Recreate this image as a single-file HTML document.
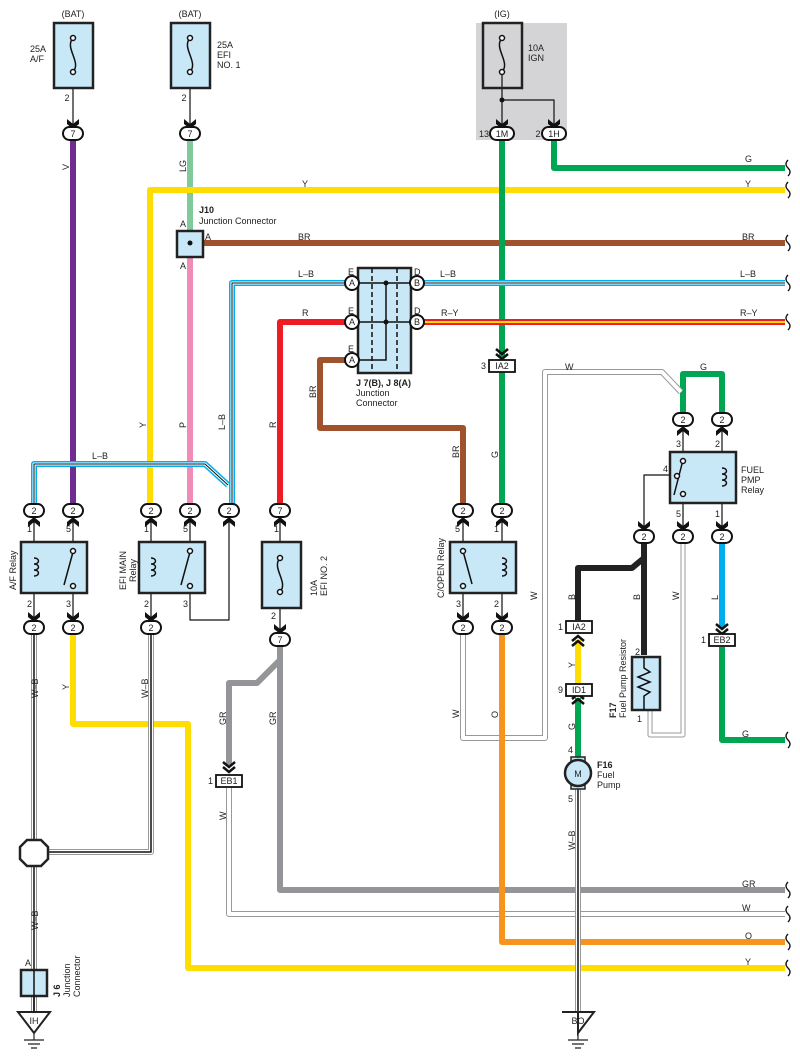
<!DOCTYPE html>
<html><head><meta charset="utf-8"><style>
html,body{margin:0;padding:0;background:#fff;}
svg{display:block;font-family:"Liberation Sans",sans-serif;}
text{font-size:9px;fill:#222;}
.b{font-weight:bold;}
</style></head><body>
<svg width="800" height="1063" viewBox="0 0 800 1063" xmlns="http://www.w3.org/2000/svg">
<defs>
<symbol id="chd" viewBox="-6 -8 12 10" width="12" height="10" overflow="visible"><path d="M-6,-8 L0,-3 L6,-8 L6,-3 L0,2 L-6,-3Z" fill="#111"/></symbol>
<symbol id="chu" viewBox="-6 -2 12 10" width="12" height="10" overflow="visible"><path d="M-6,8 L0,3 L6,8 L6,3 L0,-2 L-6,3Z" fill="#111"/></symbol>
<symbol id="dbl" viewBox="-6 -8 12 14" width="12" height="14" overflow="visible"><path d="M-6,-8 L0,-3 L6,-8 M-6,-3 L0,2 L6,-3" fill="none" stroke="#111" stroke-width="2.5"/></symbol>
<symbol id="dblu" viewBox="-6 -2 12 14" width="12" height="14" overflow="visible"><path d="M-6,8 L0,3 L6,8 M-6,3 L0,-2 L6,3" fill="none" stroke="#111" stroke-width="2.5"/></symbol>
</defs>
<g fill="none" stroke-linejoin="round">
<!-- IG gray box -->
<rect x="476" y="23" width="91" height="117" fill="#d4d4d6" stroke="none"/>
<!-- thick wires -->
<path d="M73,140 V505" stroke="#6f2c91" stroke-width="6"/>
<path d="M190,140 V232" stroke="#7fc99a" stroke-width="6"/>
<path d="M190,256 V505" stroke="#f08cb8" stroke-width="6"/>
<path d="M785,190 H150 V505" stroke="#ffdd00" stroke-width="6"/>
<path d="M203,243 H785" stroke="#a0522d" stroke-width="6"/>
<path d="M554,140 V168 H785" stroke="#00a651" stroke-width="6"/>
<path d="M502,140 V358" stroke="#00a651" stroke-width="6"/>
<path d="M502,372 V505" stroke="#00a651" stroke-width="6"/>
<path d="M345,322 H280 V505" stroke="#ed1c24" stroke-width="6"/>
<path d="M424,322 H785" stroke="#ed1c24" stroke-width="6"/>
<path d="M424,322 H785" stroke="#ffdd00" stroke-width="2"/>
<path d="M345,360 H320 V428 H463 V505" stroke="#a0522d" stroke-width="6"/>
<!-- L-B -->
<path d="M345,283 H232 V505" stroke="#00aeef" stroke-width="6"/>
<path d="M345,283 H232 V505" stroke="#fff" stroke-width="3"/>
<path d="M345,283 H232 V505" stroke="#111" stroke-width="1"/>
<path d="M424,283 H785" stroke="#00aeef" stroke-width="6"/>
<path d="M424,283 H785" stroke="#fff" stroke-width="3"/>
<path d="M424,283 H785" stroke="#111" stroke-width="1"/>
<path d="M34,505 V464 H205 L228,485" stroke="#00aeef" stroke-width="6"/>
<path d="M34,505 V464 H205 L228,485" stroke="#fff" stroke-width="3"/>
<path d="M34,505 V464 H205 L228,485" stroke="#111" stroke-width="1"/>
<!-- G loop fuel pump relay -->
<path d="M683,414 V374 H722 V414" stroke="#00a651" stroke-width="6"/>
<!-- W thin double -->
<path d="M463,633 V738 H545 V372 H662 L681,392" stroke="#999" stroke-width="6"/>
<path d="M463,633 V738 H545 V372 H662 L681,392" stroke="#fff" stroke-width="4"/>
<!-- black B -->
<path d="M644,542 V655" stroke="#222" stroke-width="6"/>
<path d="M644,548 V558 L632,568 H578 V620" stroke="#222" stroke-width="6"/>
<path d="M650,710 V735 H683 V542" stroke="#999" stroke-width="5"/>
<path d="M650,710 V735 H683 V542" stroke="#fff" stroke-width="3"/>
<!-- L blue -->
<path d="M722,542 V628" stroke="#00aeef" stroke-width="6"/>
<path d="M722,647 V740 H785" stroke="#00a651" stroke-width="6"/>
<!-- Y / G fuel pump -->
<path d="M578,640 V684" stroke="#ffdd00" stroke-width="6"/>
<path d="M578,698 V760" stroke="#00a651" stroke-width="6"/>
<!-- GR -->
<path d="M280,645 V890 H785" stroke="#939598" stroke-width="6"/>
<path d="M280,660 L257,683 H229 V765" stroke="#939598" stroke-width="6"/>
<!-- W from EB1 -->
<path d="M229,788 V914 H785" stroke="#999" stroke-width="6"/>
<path d="M229,788 V914 H785" stroke="#fff" stroke-width="4"/>
<!-- O -->
<path d="M502,633 V942 H785" stroke="#f7941d" stroke-width="6"/>
<!-- Y from A/F -->
<path d="M73,633 V724 H188 V968 H785" stroke="#ffdd00" stroke-width="6"/>
<!-- W-B -->
<path d="M34,633 V1013 M151,633 V852 H42" stroke="#999" stroke-width="6"/>
<path d="M34,633 V1013 M151,633 V852 H42" stroke="#fff" stroke-width="4"/>
<path d="M34,633 V1013 M151,633 V852 H42" stroke="#111" stroke-width="1.5"/>
<path d="M578,786 V1013" stroke="#999" stroke-width="6"/>
<path d="M578,786 V1013" stroke="#fff" stroke-width="4"/>
<path d="M578,786 V1013" stroke="#111" stroke-width="1.5"/>
<!-- thin black lines -->
<g stroke="#111" stroke-width="1.2">
<path d="M73,70 V128 M190,70 V128 M502,70 V128 M502,100 H554 V128"/>
<path d="M34,515 V622 M73,515 V622 M151,515 V622 M190,515 V601 M190,601 V620 H229 V515"/>
<path d="M280,515 V634 M463,515 V622 M502,515 V622"/>
<path d="M683,424 V531 M722,424 V531 M676,475 H644 V531"/>
<path d="M190,232 V256 M177,243 H203"/>
</g>
</g>
<!-- fuse boxes -->
<g stroke="#222" stroke-width="2.5" fill="#c8e8f8">
<rect x="54" y="23" width="39" height="65"/>
<rect x="171" y="23" width="39" height="65"/>
<rect x="483" y="23" width="39" height="65" fill="none"/>
<rect x="262" y="542" width="39" height="66"/>
<rect x="21" y="542" width="66" height="51"/>
<rect x="139" y="542" width="66" height="51"/>
<rect x="450" y="542" width="66" height="51"/>
<rect x="670" y="452" width="66" height="51"/>
<rect x="177" y="231" width="26" height="26"/>
<rect x="358" y="268" width="53" height="105"/>
<rect x="632" y="657" width="28" height="53"/>
<rect x="21" y="970" width="26" height="26"/>
</g>
<g stroke="#111" stroke-width="1.5" fill="none">
<path d="M73,38 C64,48 82,62 73,72"/><circle cx="73" cy="38" r="2.5" fill="#fff"/><circle cx="73" cy="72" r="2.5" fill="#fff"/>
<path d="M190,38 C181,48 199,62 190,72"/><circle cx="190" cy="38" r="2.5" fill="#fff"/><circle cx="190" cy="72" r="2.5" fill="#fff"/>
<path d="M502,38 C493,48 511,62 502,72"/><circle cx="502" cy="38" r="2.5" fill="#fff"/><circle cx="502" cy="72" r="2.5" fill="#fff"/>
<path d="M280,558 C271,568 289,582 280,592"/><circle cx="280" cy="558" r="2.5" fill="#fff"/><circle cx="280" cy="592" r="2.5" fill="#fff"/>
<!-- coils -->
<path d="M34,558 c6,0 6,6 0,6 c6,0 6,6 0,6 c6,0 6,6 0,6"/>
<path d="M151,558 c6,0 6,6 0,6 c6,0 6,6 0,6 c6,0 6,6 0,6"/>
<path d="M502,558 c6,0 6,6 0,6 c6,0 6,6 0,6 c6,0 6,6 0,6"/>
<path d="M722,468 c6,0 6,6 0,6 c6,0 6,6 0,6 c6,0 6,6 0,6"/>
<!-- switches -->
<path d="M73,552 L64,585"/><circle cx="73" cy="551" r="2.5" fill="#fff"/><circle cx="73" cy="586" r="2.5" fill="#fff"/>
<path d="M190,552 L181,585"/><circle cx="190" cy="551" r="2.5" fill="#fff"/><circle cx="190" cy="586" r="2.5" fill="#fff"/>
<path d="M463,551 L472,584"/><circle cx="463" cy="551" r="2.5" fill="#fff"/><circle cx="463" cy="586" r="2.5" fill="#fff"/>
<path d="M683,460 L674,495"/><circle cx="683" cy="461" r="2.5" fill="#fff"/><circle cx="677" cy="476" r="2.5" fill="#fff"/><circle cx="683" cy="494" r="2.5" fill="#fff"/>
<!-- resistor -->
<path d="M644,657 V668 l6,4 l-12,5 l12,5 l-12,5 l12,5 l-6,4 V710"/>
<!-- J7/J8 internals -->
<path d="M358,283 H411 M358,322 H411 M358,360 H386 V283"/>
<path d="M372,268 V373 M397,268 V373" stroke-dasharray="5,3"/>
<path d="M34,970 V1013"/>
</g>
<circle cx="386" cy="283" r="2.5" fill="#111"/><circle cx="386" cy="322" r="2.5" fill="#111"/><circle cx="190" cy="243" r="2.5" fill="#111"/><circle cx="502" cy="100" r="2.5" fill="#111"/>
<!-- octagon splice -->
<polygon points="27,840 41,840 48,847 48,859 41,866 27,866 20,859 20,847" fill="#fff" stroke="#222" stroke-width="2.5"/>
<!-- motor -->
<rect x="571" y="757" width="14" height="6" fill="#c8e8f8" stroke="#222" stroke-width="1.5"/>
<rect x="571" y="783" width="14" height="6" fill="#c8e8f8" stroke="#222" stroke-width="1.5"/>
<circle cx="578" cy="773" r="13" fill="#c8e8f8" stroke="#222" stroke-width="2.5"/>
<text x="578" y="777" text-anchor="middle">M</text>
<!-- grounds -->
<g stroke="#222" stroke-width="2" fill="#fff">
<path d="M18,1012 H50 L34,1033Z"/><path d="M578,1012 H562 H594 L578,1033Z"/>
</g>
<g stroke="#222" stroke-width="1.2"><path d="M34,1033 V1040 M24,1040 H44 M28,1044 H40 M31,1048 H37 M578,1033 V1040 M568,1040 H588 M572,1044 H584 M575,1048 H581"/></g>
<text x="34" y="1024" text-anchor="middle">IH</text><text x="578" y="1024" text-anchor="middle">BO</text>
<!-- arrow chevrons -->
<use href="#chd" x="67" y="119"/><use href="#chd" x="184" y="119"/><use href="#chd" x="496" y="119"/><use href="#chd" x="548" y="119"/>
<use href="#chu" x="28" y="517"/><use href="#chu" x="67" y="517"/><use href="#chu" x="145" y="517"/><use href="#chu" x="184" y="517"/><use href="#chu" x="223" y="517"/><use href="#chu" x="274" y="517"/>
<use href="#chu" x="457" y="517"/><use href="#chu" x="496" y="517"/><use href="#chu" x="677" y="426"/><use href="#chu" x="716" y="426"/>
<use href="#chd" x="28" y="612"/><use href="#chd" x="67" y="612"/><use href="#chd" x="145" y="612"/><use href="#chd" x="457" y="612"/><use href="#chd" x="496" y="612"/><use href="#chd" x="274" y="624"/>
<use href="#chd" x="638" y="521"/><use href="#chd" x="677" y="521"/><use href="#chd" x="716" y="521"/>
<use href="#dbl" x="496" y="349"/><use href="#dbl" x="716" y="624"/><use href="#dbl" x="223" y="762"/>
<use href="#dblu" x="572" y="636"/><use href="#dblu" x="572" y="694"/>
<!-- connectors ovals -->
<g fill="#fff" stroke="#111" stroke-width="2">
<rect x="63" y="127" width="20" height="13" rx="6.5"/><rect x="180" y="127" width="20" height="13" rx="6.5"/>
<rect x="490" y="127" width="24" height="13" rx="6.5"/><rect x="542" y="127" width="24" height="13" rx="6.5"/>
<rect x="24" y="504" width="20" height="13" rx="6.5"/><rect x="63" y="504" width="20" height="13" rx="6.5"/><rect x="141" y="504" width="20" height="13" rx="6.5"/><rect x="180" y="504" width="20" height="13" rx="6.5"/><rect x="219" y="504" width="20" height="13" rx="6.5"/><rect x="270" y="504" width="20" height="13" rx="6.5"/><rect x="453" y="504" width="20" height="13" rx="6.5"/><rect x="492" y="504" width="20" height="13" rx="6.5"/>
<rect x="24" y="621" width="20" height="13" rx="6.5"/><rect x="63" y="621" width="20" height="13" rx="6.5"/><rect x="141" y="621" width="20" height="13" rx="6.5"/><rect x="453" y="621" width="20" height="13" rx="6.5"/><rect x="492" y="621" width="20" height="13" rx="6.5"/><rect x="270" y="633" width="20" height="13" rx="6.5"/>
<rect x="673" y="413" width="20" height="13" rx="6.5"/><rect x="712" y="413" width="20" height="13" rx="6.5"/><rect x="634" y="530" width="20" height="13" rx="6.5"/><rect x="673" y="530" width="20" height="13" rx="6.5"/><rect x="712" y="530" width="20" height="13" rx="6.5"/>
<circle cx="352" cy="283" r="7"/><circle cx="352" cy="322" r="7"/><circle cx="352" cy="360" r="7"/><circle cx="417" cy="283" r="7"/><circle cx="417" cy="322" r="7"/>
<rect x="489" y="360" width="26" height="12" stroke-width="1.8"/><rect x="566" y="621" width="26" height="12" stroke-width="1.8"/><rect x="566" y="684" width="26" height="12" stroke-width="1.8"/><rect x="709" y="634" width="26" height="12" stroke-width="1.8"/><rect x="216" y="775" width="26" height="12" stroke-width="1.8"/>
</g>
<g text-anchor="middle">
<text x="73" y="137">7</text><text x="190" y="137">7</text><text x="502" y="137">1M</text><text x="554" y="137">1H</text>
<text x="34" y="514">2</text><text x="73" y="514">2</text><text x="151" y="514">2</text><text x="190" y="514">2</text><text x="229" y="514">2</text><text x="280" y="514">7</text><text x="463" y="514">2</text><text x="502" y="514">2</text>
<text x="34" y="631">2</text><text x="73" y="631">2</text><text x="151" y="631">2</text><text x="463" y="631">2</text><text x="502" y="631">2</text><text x="280" y="643">7</text>
<text x="683" y="423">2</text><text x="722" y="423">2</text><text x="644" y="540">2</text><text x="683" y="540">2</text><text x="722" y="540">2</text>
<text x="352" y="286">A</text><text x="352" y="325">A</text><text x="352" y="363">A</text><text x="417" y="286">B</text><text x="417" y="325">B</text>
<text x="502" y="369">IA2</text><text x="579" y="630">IA2</text><text x="579" y="693">ID1</text><text x="722" y="643">EB2</text><text x="229" y="784">EB1</text>
<text x="73" y="17">(BAT)</text><text x="190" y="17">(BAT)</text><text x="502" y="17">(IG)</text>
<text x="67" y="101">2</text><text x="184" y="101">2</text><text x="484" y="137">13</text><text x="538" y="137">2</text>
</g>
<!-- misc labels -->
<text x="30" y="52">25A</text><text x="30" y="62">A/F</text>
<text x="217" y="48">25A</text><text x="217" y="58">EFI</text><text x="217" y="68">NO. 1</text>
<text x="528" y="51">10A</text><text x="528" y="61">IGN</text>
<text class="b" x="199" y="213">J10</text><text x="199" y="224">Junction Connector</text>
<text x="180" y="227">A</text><text x="205" y="240">A</text><text x="180" y="269">A</text>
<text x="298" y="240">BR</text><text x="742" y="240">BR</text>
<text x="302" y="187">Y</text><text x="745" y="187">Y</text><text x="745" y="162">G</text>
<text x="298" y="277">L–B</text><text x="440" y="277">L–B</text><text x="740" y="277">L–B</text>
<text x="302" y="316">R</text><text x="441" y="316">R–Y</text><text x="740" y="316">R–Y</text>
<text x="348" y="275">E</text><text x="348" y="314">E</text><text x="348" y="352">E</text><text x="414" y="275">D</text><text x="414" y="314">D</text>
<text class="b" x="356" y="386">J 7(B), J 8(A)</text><text x="356" y="396">Junction</text><text x="356" y="406">Connector</text>
<text x="92" y="459">L–B</text>
<text x="27" y="532">1</text><text x="66" y="532">5</text><text x="144" y="532">1</text><text x="183" y="532">5</text><text x="274" y="532">1</text>
<text x="455" y="532">5</text><text x="494" y="532">1</text>
<text x="27" y="607">2</text><text x="66" y="607">3</text><text x="144" y="607">2</text><text x="183" y="607">3</text><text x="271" y="619">2</text>
<text x="456" y="607">3</text><text x="494" y="607">2</text>
<text x="676" y="447">3</text><text x="715" y="447">2</text><text x="663" y="472">4</text><text x="676" y="517">5</text><text x="715" y="517">1</text>
<text x="741" y="473">FUEL</text><text x="741" y="483">PMP</text><text x="741" y="493">Relay</text>
<text x="565" y="370">W</text><text x="700" y="370">G</text>
<text x="481" y="369">3</text><text x="558" y="630">1</text><text x="558" y="693">9</text><text x="701" y="643">1</text><text x="208" y="784">1</text>
<text x="635" y="655">2</text><text x="637" y="722">1</text><text x="568" y="753">4</text><text x="568" y="802">5</text>
<text class="b" x="597" y="768">F16</text><text x="597" y="778">Fuel</text><text x="597" y="788">Pump</text>
<text x="742" y="737">G</text><text x="742" y="887">GR</text><text x="742" y="911">W</text><text x="745" y="939">O</text><text x="745" y="965">Y</text>
<text x="25" y="966">A</text>
<!-- rotated labels -->
<g>
<text transform="translate(69,170) rotate(-90)">V</text>
<text transform="translate(186,172) rotate(-90)">LG</text>
<text transform="translate(146,428) rotate(-90)">Y</text>
<text transform="translate(186,428) rotate(-90)">P</text>
<text transform="translate(225,430) rotate(-90)">L–B</text>
<text transform="translate(276,428) rotate(-90)">R</text>
<text transform="translate(316,398) rotate(-90)">BR</text>
<text transform="translate(459,458) rotate(-90)">BR</text>
<text transform="translate(498,458) rotate(-90)">G</text>
<text transform="translate(16,590) rotate(-90)">A/F Relay</text>
<text transform="translate(126,590) rotate(-90)">EFI MAIN</text>
<text transform="translate(136,582) rotate(-90)">Relay</text>
<text transform="translate(317,596) rotate(-90)">10A</text>
<text transform="translate(327,596) rotate(-90)">EFI NO. 2</text>
<text transform="translate(444,598) rotate(-90)">C/OPEN Relay</text>
<text transform="translate(537,600) rotate(-90)">W</text>
<text transform="translate(575,600) rotate(-90)">B</text>
<text transform="translate(640,600) rotate(-90)">B</text>
<text transform="translate(679,600) rotate(-90)">W</text>
<text transform="translate(718,600) rotate(-90)">L</text>
<text transform="translate(575,668) rotate(-90)">Y</text>
<text transform="translate(575,730) rotate(-90)">G</text>
<text class="b" transform="translate(616,718) rotate(-90)">F17</text>
<text transform="translate(626,718) rotate(-90)">Fuel Pump Resistor</text>
<text transform="translate(38,698) rotate(-90)">W–B</text>
<text transform="translate(69,690) rotate(-90)">Y</text>
<text transform="translate(148,698) rotate(-90)">W–B</text>
<text transform="translate(226,725) rotate(-90)">GR</text>
<text transform="translate(276,725) rotate(-90)">GR</text>
<text transform="translate(459,718) rotate(-90)">W</text>
<text transform="translate(498,718) rotate(-90)">O</text>
<text transform="translate(226,820) rotate(-90)">W</text>
<text transform="translate(38,930) rotate(-90)">W–B</text>
<text transform="translate(575,850) rotate(-90)">W–B</text>
<text class="b" transform="translate(60,997) rotate(-90)">J 6</text>
<text transform="translate(70,997) rotate(-90)">Junction</text>
<text transform="translate(80,997) rotate(-90)">Connector</text>
</g>
<!-- squiggles -->
<g fill="none" stroke="#111" stroke-width="1.3">
<path d="M788,160 q-4,4 0,8 q4,4 0,8 M788,182 q-4,4 0,8 q4,4 0,8 M788,235 q-4,4 0,8 q4,4 0,8 M788,275 q-4,4 0,8 q4,4 0,8 M788,314 q-4,4 0,8 q4,4 0,8 M788,732 q-4,4 0,8 q4,4 0,8 M788,882 q-4,4 0,8 q4,4 0,8 M788,906 q-4,4 0,8 q4,4 0,8 M788,934 q-4,4 0,8 q4,4 0,8 M788,960 q-4,4 0,8 q4,4 0,8"/>
</g>
</svg>
</body></html>
